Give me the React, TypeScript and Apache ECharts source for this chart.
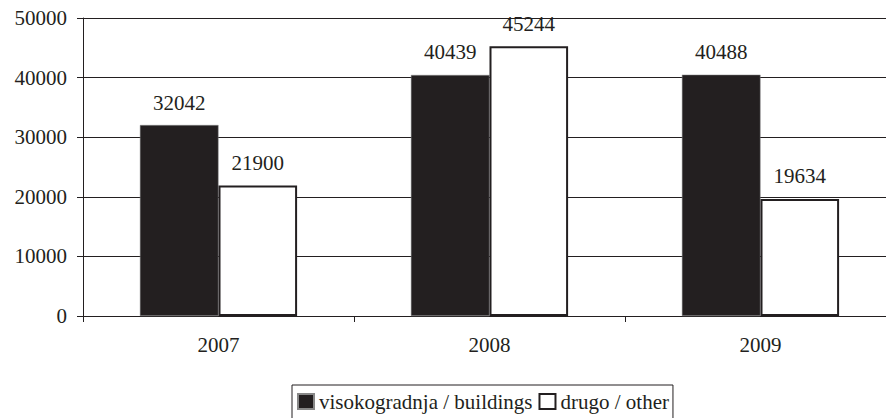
import React, { useEffect, useRef } from "react";
import * as echarts from "echarts";

const categories = ["2007", "2008", "2009"];
const buildings = [32042, 40439, 40488];
const other = [21900, 45244, 19634];
const yTicks = [0, 10000, 20000, 30000, 40000, 50000];

const FONT = "Liberation Serif";
const INK = "#231f20";
const serifText = { fontFamily: FONT, fontSize: 21, color: INK };

export default function App() {
  const ref = useRef<HTMLDivElement>(null);
  useEffect(() => {
    if (!ref.current) return;
    const chart = echarts.init(ref.current, null, { renderer: "svg" });
    chart.setOption({
      animation: false,
      textStyle: { fontFamily: FONT, color: INK, fontSize: 21 },
      grid: { left: 83, top: 18, width: 813, bottom: 102 },
      legend: {
        top: 385,
        left: 292,
        itemWidth: 16,
        itemHeight: 15,
        itemGap: 6,
        padding: [6, 4, 12, 5],
        borderColor: INK,
        borderWidth: 1,
        formatter: (name: string) => "{t|" + name + "}",
        textStyle: { ...serifText, rich: { t: { ...serifText } } },
        data: [
          { name: "visokogradnja / buildings", icon: "rect" },
          { name: "drugo / other", icon: "rect" },
        ],
      },
      xAxis: {
        type: "category",
        data: categories,
        axisLine: { lineStyle: { color: INK, width: 1 } },
        axisTick: { show: true, length: 6, lineStyle: { color: INK } },
        axisLabel: { ...serifText, margin: 18 },
      },
      yAxis: {
        type: "value",
        min: yTicks[0],
        max: yTicks[yTicks.length - 1],
        interval: 10000,
        axisLine: { show: true, lineStyle: { color: INK, width: 1 } },
        axisTick: { show: true, length: 6, lineStyle: { color: INK } },
        splitLine: { lineStyle: { color: INK, width: 1 } },
        axisLabel: {
          ...serifText,
          margin: 16,
          formatter: (v: number) => "{t|" + String(v) + "}",
          rich: { t: { ...serifText } },
        },
      },
      series: [
        {
          name: "visokogradnja / buildings",
          type: "bar",
          data: buildings,
          barGap: "0%",
          barCategoryGap: "42%",
          itemStyle: { color: INK, borderColor: "#888", borderWidth: 0.5 },
          label: { show: true, position: "top", distance: 12, ...serifText },
        },
        {
          name: "drugo / other",
          type: "bar",
          data: other,
          itemStyle: { color: "#ffffff", borderColor: INK, borderWidth: 2 },
          label: { show: true, position: "top", distance: 12, ...serifText },
        },
      ],
    });
    return () => chart.dispose();
  }, []);
  return (
    <div style={{ width: 886, height: 418, position: "absolute", left: 0, top: 0, overflow: "hidden" }}>
      <div ref={ref} style={{ width: 906, height: 418 }} />
    </div>
  );
}
